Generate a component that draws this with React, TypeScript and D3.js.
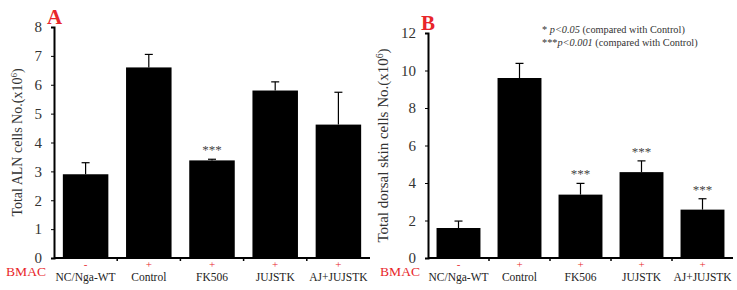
import React, { useEffect, useRef } from 'react';
import * as d3 from 'd3';

// groups shared by both panels
const groups = ['NC/Nga-WT', 'Control', 'FK506', 'JUJSTK', 'AJ+JUJSTK'];
const bmac = ['-', '+', '+', '+', '+'];

// panel A: total ALN cells
const alnMeans = [2.9, 6.6, 3.38, 5.8, 4.62];
const alnErrors = [0.4, 0.45, 0.04, 0.3, 1.12];
const alnStars = ['', '', '***', '', ''];
const alnTicks = [0, 1, 2, 3, 4, 5, 6, 7, 8];

// panel B: total dorsal skin cells
const skinMeans = [1.6, 9.6, 3.38, 4.58, 2.58];
const skinErrors = [0.37, 0.78, 0.6, 0.6, 0.58];
const skinStars = ['', '', '***', '***', '***'];
const skinTicks = [0, 2, 4, 6, 8, 10, 12];

const FONT = '"Liberation Serif", "Times New Roman", serif';
const RED = '#e8262b';

function drawPanel(svg, opts) {
  const { x0, x1, yTop, yBottom, max, ticks, means, errors, stars, letter, label, labelX, labelSize } = opts;

  const x = d3.scaleBand().domain(groups).range([x0, x1]).paddingInner(0.28).paddingOuter(0.14);
  const y = d3.scaleLinear().domain([0, max]).range([yBottom, yTop]);

  const g = svg.append('g');

  // bars
  g.selectAll('rect.bar')
    .data(groups)
    .enter()
    .append('rect')
    .attr('x', (d) => x(d))
    .attr('y', (d, i) => y(means[i]))
    .attr('width', x.bandwidth())
    .attr('height', (d, i) => yBottom - y(means[i]))
    .attr('fill', '#000');

  // error bars (upper only)
  groups.forEach((d, i) => {
    const cx = x(d) + x.bandwidth() / 2;
    const top = y(means[i] + errors[i]);
    g.append('line').attr('x1', cx).attr('x2', cx).attr('y1', y(means[i])).attr('y2', top)
      .attr('stroke', '#000').attr('stroke-width', 1.2);
    g.append('line').attr('x1', cx - 4).attr('x2', cx + 4).attr('y1', top).attr('y2', top)
      .attr('stroke', '#000').attr('stroke-width', 1.2);
    if (stars[i]) {
      g.append('text').attr('x', cx).attr('y', top - 5).attr('text-anchor', 'middle')
        .attr('font-family', FONT).attr('font-size', 13).attr('fill', '#444').text(stars[i]);
    }
  });

  // y axis
  const yAxis = g.append('g').attr('transform', `translate(${x0},0)`)
    .call(d3.axisLeft(y).tickValues(ticks).tickSize(3).tickPadding(9));
  yAxis.select('.domain').attr('stroke-width', 2);
  yAxis.selectAll('text').attr('font-family', FONT).attr('font-size', 15).attr('fill', '#333');

  // x axis line with ticks between categories
  g.append('line').attr('x1', x0).attr('x2', x1).attr('y1', yBottom).attr('y2', yBottom)
    .attr('stroke', '#000').attr('stroke-width', 2);
  groups.slice(1).forEach((d) => {
    const bx = x(d) - (x.step() - x.bandwidth()) / 2;
    g.append('line').attr('x1', bx).attr('x2', bx).attr('y1', yBottom).attr('y2', yBottom + 3)
      .attr('stroke', '#000').attr('stroke-width', 1.5);
  });

  // BMAC +/- row and category names
  g.append('text').attr('x', x0 - 8).attr('y', yBottom + 18).attr('text-anchor', 'end')
    .attr('font-family', FONT).attr('font-size', 12).attr('fill', RED)
    .attr('textLength', 40).attr('lengthAdjust', 'spacingAndGlyphs').text('BMAC');
  groups.forEach((d, i) => {
    const cx = x(d) + x.bandwidth() / 2;
    g.append('text').attr('x', cx).attr('y', yBottom + 10).attr('text-anchor', 'middle')
      .attr('font-family', FONT).attr('font-size', 11).attr('fill', RED).text(bmac[i]);
    g.append('text').attr('x', cx).attr('y', yBottom + 23).attr('text-anchor', 'middle')
      .attr('font-family', FONT).attr('font-size', 11.5).attr('fill', '#222').text(d);
  });

  // panel letter
  g.append('text').attr('x', x0 - 7).attr('y', yTop - 3).attr('font-family', FONT)
    .attr('font-size', 21).attr('font-weight', 'bold').attr('fill', RED).text(letter);

  // y label
  const cy = (yTop + yBottom) / 2;
  const lab = g.append('text').attr('transform', `translate(${labelX},${cy}) rotate(-90)`)
    .attr('text-anchor', 'middle').attr('font-family', FONT).attr('font-size', labelSize).attr('fill', '#333');
  lab.append('tspan').text(label);
  lab.append('tspan').attr('font-size', labelSize * 0.65).attr('dy', -5).text('6');
  lab.append('tspan').attr('dy', 5).text(')');
}

export default function App() {
  const svgRef = useRef(null);

  useEffect(() => {
    const svg = d3.select(svgRef.current);
    svg.selectAll('*').remove();

    drawPanel(svg, {
      x0: 54, x1: 370, yTop: 27, yBottom: 258, max: 8, ticks: alnTicks,
      means: alnMeans, errors: alnErrors, stars: alnStars,
      letter: 'A', label: 'Total ALN cells No.(x10', labelX: 22, labelSize: 14,
    });
    drawPanel(svg, {
      x0: 428, x1: 733, yTop: 33, yBottom: 258, max: 12, ticks: skinTicks,
      means: skinMeans, errors: skinErrors, stars: skinStars,
      letter: 'B', label: 'Total  dorsal skin cells No.(x10', labelX: 388, labelSize: 15,
    });

    // significance legend
    const leg = svg.append('g').attr('font-family', FONT).attr('font-size', 10.3).attr('fill', '#333');
    const l1 = leg.append('text').attr('x', 542).attr('y', 33);
    l1.append('tspan').text('* ');
    l1.append('tspan').attr('font-style', 'italic').text('p<0.05');
    l1.append('tspan').text(' (compared with Control)');
    const l2 = leg.append('text').attr('x', 542).attr('y', 46);
    l2.append('tspan').text('***');
    l2.append('tspan').attr('font-style', 'italic').text('p<0.001');
    l2.append('tspan').text(' (compared with Control)');
  }, []);

  return (
    <svg ref={svgRef} width={737} height={290} style={{ position: 'absolute', left: 0, top: 0, background: '#fff' }}></svg>
  );
}
